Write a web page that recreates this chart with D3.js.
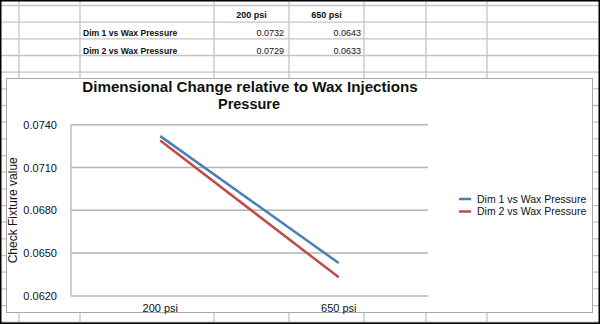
<!DOCTYPE html>
<html>
<head>
<meta charset="utf-8">
<script src="https://cdn.jsdelivr.net/npm/d3@7"></script>
<style>
  html, body { margin: 0; padding: 0; background: #fff; }
  svg { display: block; }
  text { font-family: "Liberation Sans", Arial, sans-serif; fill: #111; }
</style>
</head>
<body>
<svg id="chart" width="600" height="324"></svg>
<script>
// ---- data ----
const categories = ["200 psi", "650 psi"];
const seriesNames = ["Dim 1 vs Wax Pressure", "Dim 2 vs Wax Pressure"];
const dim1Values = [0.0732, 0.0643];
const dim2Values = [0.0729, 0.0633];
const yTickValues = [0.0620, 0.0650, 0.0680, 0.0710, 0.0740];
const titleLines = ["Dimensional Change relative to Wax Injections", "Pressure"];
const yAxisTitle = "Check Fixture value";

const seriesColors = ["#4a7ebb", "#be4b48"];
const series = [
  { name: seriesNames[0], values: dim1Values, color: seriesColors[0] },
  { name: seriesNames[1], values: dim2Values, color: seriesColors[1] }
];

const W = 600, H = 324;
const svg = d3.select("#chart");

svg.append("rect").attr("width", W).attr("height", H).attr("fill", "#fff");

// ---- spreadsheet grid behind ----
const gridColor = "#c4c4c4";
const colLines = [19, 80, 214, 289, 364, 426, 487];
const rowLines = d3.range(20).map(k => 5.5 + 16.67 * k);
const sheet = svg.append("g");
sheet.selectAll("line.row").data(rowLines).join("line")
  .attr("x1", 0).attr("x2", W).attr("y1", d => d).attr("y2", d => d)
  .attr("stroke", gridColor).attr("stroke-width", 1.3);
sheet.selectAll("line.col").data(colLines).join("line")
  .attr("x1", d => d).attr("x2", d => d).attr("y1", 0).attr("y2", H)
  .attr("stroke", gridColor).attr("stroke-width", 1.3);

// table contents
const colCenters = [251.5, 326.5];
const colRights = [284, 361];
const rowCenters = [15, 33, 51];
sheet.selectAll("text.hdr").data(categories).join("text")
  .attr("x", (d, i) => colCenters[i]).attr("y", rowCenters[0]).attr("dy", "0.35em")
  .attr("text-anchor", "middle").attr("font-size", 9).attr("font-weight", "bold")
  .text(d => d);
series.forEach((s, r) => {
  sheet.append("text")
    .attr("x", 83).attr("y", rowCenters[r + 1]).attr("dy", "0.35em")
    .attr("font-size", 8.6).attr("font-weight", "bold").text(s.name);
  sheet.selectAll(null).data(s.values).join("text")
    .attr("x", (d, i) => colRights[i]).attr("y", rowCenters[r + 1]).attr("dy", "0.35em")
    .attr("text-anchor", "end").attr("font-size", 9).text(d => d.toFixed(4));
});

// ---- chart object ----
svg.append("rect")
  .attr("x", 6.5).attr("y", 78.5).attr("width", 586).attr("height", 234)
  .attr("fill", "#fff").attr("stroke", "#a8a8a8").attr("stroke-width", 1);

const plot = { left: 71, right: 428, top: 124.7, bottom: 295.9 };

const x = d3.scaleBand().domain(categories).range([plot.left, plot.right]);
const y = d3.scaleLinear().domain([0.062, 0.074]).range([plot.bottom, plot.top]);

// gridlines
svg.append("g").selectAll("line").data(yTickValues).join("line")
  .attr("x1", plot.left).attr("x2", plot.right)
  .attr("y1", d => y(d)).attr("y2", d => y(d))
  .attr("stroke", "#b4b4b4").attr("stroke-width", 1.5);

// left axis line
svg.append("line")
  .attr("x1", plot.left).attr("x2", plot.left)
  .attr("y1", plot.top).attr("y2", plot.bottom)
  .attr("stroke", "#b4b4b4").attr("stroke-width", 1.3);

// y axis labels
const yAxis = d3.axisLeft(y).tickValues(yTickValues).tickFormat(d3.format(".4f"))
  .tickSize(0).tickPadding(14);
const yg = svg.append("g").attr("transform", `translate(${plot.left},0)`).call(yAxis);
yg.select(".domain").remove();
yg.selectAll("text").attr("font-size", 11).attr("font-family", "Liberation Sans, Arial, sans-serif").attr("fill", "#111");

// x axis labels
const xAxis = d3.axisBottom(x).tickSize(0).tickPadding(8);
const xg = svg.append("g").attr("transform", `translate(0,${plot.bottom})`).call(xAxis);
xg.select(".domain").remove();
xg.selectAll("text").attr("font-size", 11).attr("font-family", "Liberation Sans, Arial, sans-serif").attr("fill", "#111");

// series lines
const line = d3.line()
  .x((d, i) => x(categories[i]) + x.bandwidth() / 2)
  .y(d => y(d));
svg.append("g").selectAll("path").data(series).join("path")
  .attr("d", d => line(d.values))
  .attr("fill", "none").attr("stroke", d => d.color).attr("stroke-width", 2.5);

// title
const title = svg.append("g").attr("font-weight", "bold");
title.append("text").attr("x", 250).attr("y", 92).attr("text-anchor", "middle")
  .attr("font-size", 14).text(titleLines[0]);
title.append("text").attr("x", 249).attr("y", 108.5).attr("text-anchor", "middle")
  .attr("font-size", 14).text(titleLines[1]);
// fit first line width to the reference (~336px)
title.selectAll("text").each(function () {
  const t = d3.select(this);
  const len = this.getComputedTextLength();
  const target = titleLines.indexOf(t.text()) === 0 ? 336 : 62;
  t.attr("font-size", 14 * target / len);
});

// y axis title
svg.append("text")
  .attr("transform", `translate(16.5,${(plot.top + plot.bottom) / 2}) rotate(-90)`)
  .attr("text-anchor", "middle").attr("font-size", 12)
  .text(yAxisTitle);

// legend
const legend = svg.append("g");
series.forEach((s, i) => {
  const ly = 199 + i * 12.5;
  legend.append("line").attr("x1", 459).attr("x2", 471).attr("y1", ly).attr("y2", ly)
    .attr("stroke", s.color).attr("stroke-width", 2.5);
  legend.append("text").attr("x", 477).attr("y", ly).attr("dy", "0.35em")
    .attr("font-size", 10.5).text(s.name);
});

// outer black border
svg.append("rect").attr("x", 0.75).attr("y", 0.75).attr("width", W - 1.5).attr("height", H - 1.5)
  .attr("fill", "none").attr("stroke", "#000").attr("stroke-width", 1.5);
</script>
</body>
</html>
